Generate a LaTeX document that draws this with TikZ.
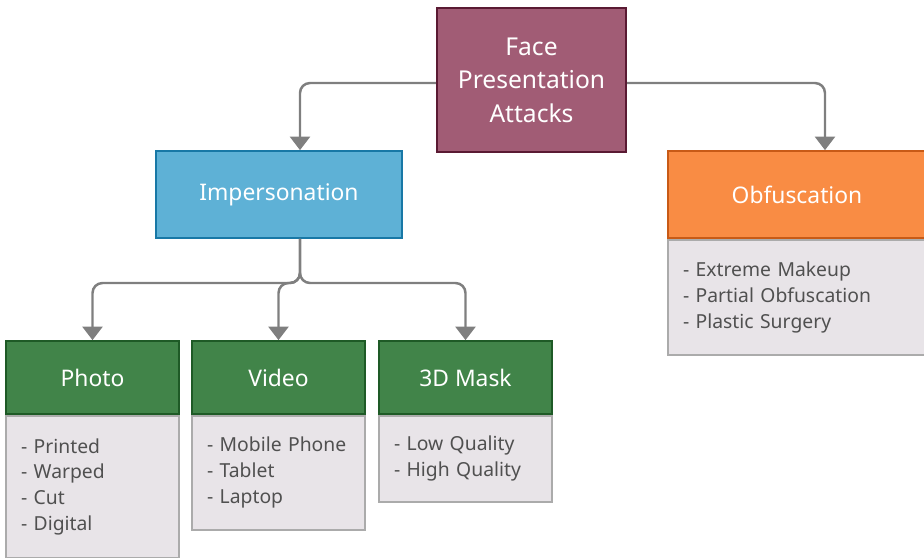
\documentclass[tikz,border=0pt]{standalone}
\usepackage{fontspec}
\setmainfont{Noto Sans}
\usetikzlibrary{positioning,arrows.meta}

\definecolor{rootfill}{HTML}{A15C75}
\definecolor{rootline}{HTML}{5A1A33}
\definecolor{impfill}{HTML}{5EB1D6}
\definecolor{impline}{HTML}{1878A6}
\definecolor{obffill}{HTML}{F98C44}
\definecolor{obfline}{HTML}{C85A16}
\definecolor{leaffill}{HTML}{418449}
\definecolor{leafline}{HTML}{1E5A26}
\definecolor{bodyfill}{HTML}{E8E4E8}
\definecolor{bodyline}{HTML}{ABABAB}
\definecolor{bodytext}{HTML}{505050}
\definecolor{linkgray}{HTML}{7F7F7F}

\tikzset{
  rootbox/.style={draw=rootline, fill=rootfill, line width=1.2pt, text=white,
    minimum width=3.78cm, minimum height=2.88cm, align=center,
    font=\fontsize{14}{19}\selectfont},
  headbox/.style={line width=1pt, text=white, minimum height=1.46cm,
    minimum width=3.46cm, font=\fontsize{13}{16}\selectfont},
  listbox/.style={draw=bodyline, fill=bodyfill, line width=1pt, text=bodytext,
    align=left, inner xsep=0.3cm, text width=2.86cm,
    font=\fontsize{11}{14.7}\selectfont},
  link/.style={draw=linkgray, line width=1.4pt, rounded corners=0.2cm,
    -{Triangle[width=0.4cm,length=0.27cm]}}
}

\begin{document}
\begin{tikzpicture}[x=0.02cm, y=-0.02cm]
\useasboundingbox (0,0) rectangle (924,558);

% STEP 1: top of the tree and its two families
\node[rootbox] (root) at (531.5,80) {Face\\Presentation\\Attacks};
\node[headbox, draw=impline, fill=impfill, minimum width=4.92cm, minimum height=1.74cm]
  (imp) at (279,194.5) {Impersonation};
\node[headbox, draw=obfline, fill=obffill, minimum width=5.16cm, minimum height=1.74cm]
  (obf) at (797,194.5) {Obfuscation};
\node[listbox, text width=4.56cm, minimum height=2.30cm, below=0pt of obf]
  (obflist) {- Extreme Makeup\\- Partial Obfuscation\\- Plastic Surgery};

% STEP 2: the three impersonation kinds with their lists
\node[headbox, draw=leafline, fill=leaffill] (photo) at (92.5,377.5) {Photo};
\node[headbox, draw=leafline, fill=leaffill] (video) at (278.5,377.5) {Video};
\node[headbox, draw=leafline, fill=leaffill] (mask) at (465.5,377.5) {3D Mask};

\node[listbox, minimum height=2.84cm, below=0pt of photo]
  (photolist) {- Printed\\- Warped\\- Cut\\- Digital};
\node[listbox, minimum height=2.28cm, below=0pt of video]
  (videolist) {- Mobile Phone\\- Tablet\\- Laptop};
\node[listbox, minimum height=1.72cm, below=0pt of mask]
  (masklist) {- Low Quality\\- High Quality};

% STEP 3: connectors
\coordinate (fork) at (300,283);
\draw[link] ([yshift=-0.06cm]root.west) -| ([xshift=0.42cm]imp.north);
\draw[link] ([yshift=-0.06cm]root.east) -| ([xshift=0.56cm]obf.north);
\foreach \leaf in {photo,video,mask}
  \draw[link] ([xshift=0.42cm]imp.south) -- (fork) -| (\leaf.north);

\end{tikzpicture}
\end{document}
